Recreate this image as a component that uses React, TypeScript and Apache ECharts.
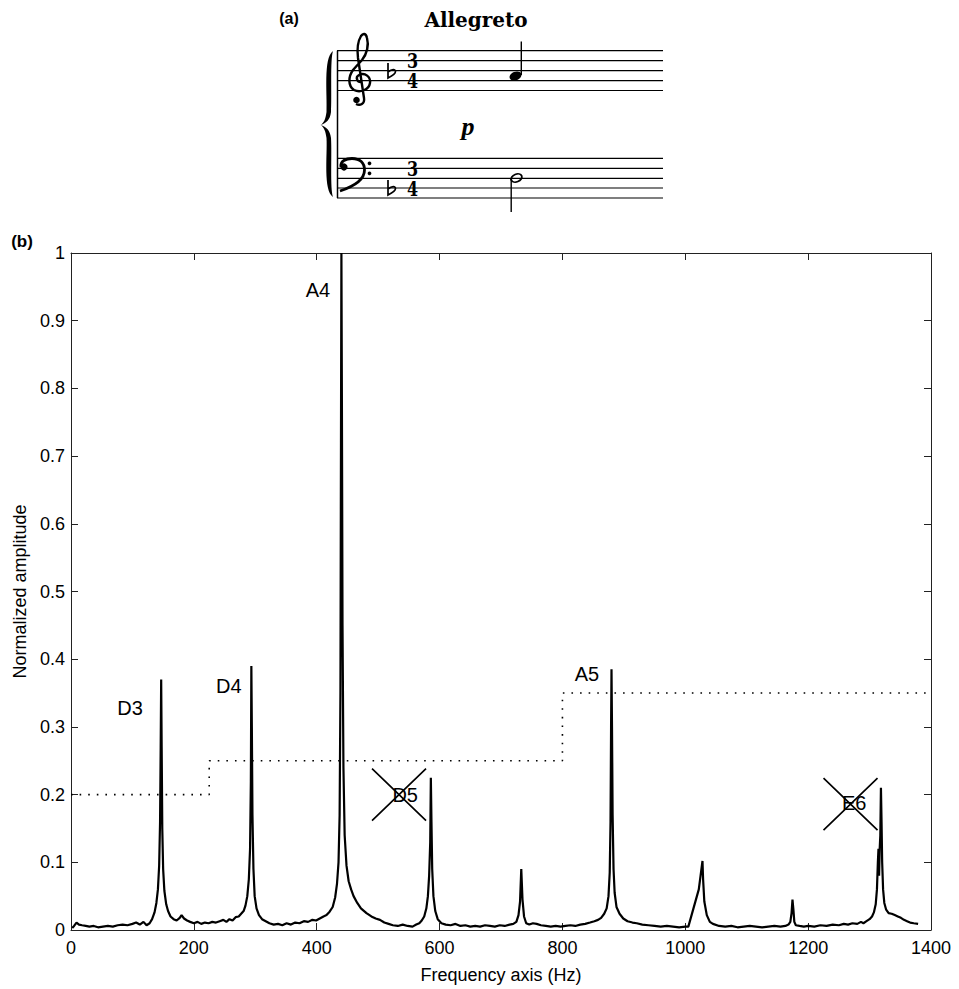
import React, { useEffect, useRef } from "react";
import * as echarts from "echarts";

// ---- data ----
const xMin = 0;
const xMax = 1400;
const xStep = 200;
const yMin = 0;
const yMax = 1;
const yStep = 0.1;

// normalized amplitude spectrum [Hz, amplitude]
const spectrum: [number, number][] = [
  [2, 0.003], [5, 0.006], [9, 0.011], [13, 0.008], [18, 0.007], [24, 0.006], [30, 0.005], [37, 0.006],
  [44, 0.004], [52, 0.005], [60, 0.006], [68, 0.005], [76, 0.007], [84, 0.008], [92, 0.007], [100, 0.009],
  [106, 0.011], [112, 0.008], [118, 0.012], [123, 0.007], [128, 0.01],
  [132, 0.016], [136, 0.026], [139, 0.04], [141.5, 0.06], [143.5, 0.095], [145, 0.16], [146, 0.27],
  [146.8, 0.37], [147.6, 0.27], [148.6, 0.15], [150, 0.09], [152, 0.058], [155, 0.038], [158, 0.028],
  [162, 0.02], [167, 0.016], [172, 0.014], [177, 0.018], [180, 0.022], [184, 0.017], [189, 0.014],
  [194, 0.012], [200, 0.01], [206, 0.012], [212, 0.009], [218, 0.011], [224, 0.01], [230, 0.012],
  [236, 0.011], [242, 0.013], [248, 0.015], [253, 0.012], [258, 0.016], [263, 0.014], [268, 0.019],
  [273, 0.02], [277, 0.024], [281, 0.028],
  [284, 0.036], [287, 0.05], [289.5, 0.075], [291.5, 0.12], [292.8, 0.22], [293.6, 0.39], [294.4, 0.3],
  [295.4, 0.17], [297, 0.09], [299, 0.05], [302, 0.032], [306, 0.022], [311, 0.016], [317, 0.013],
  [323, 0.01], [330, 0.008], [337, 0.009], [344, 0.007], [351, 0.01], [358, 0.008], [365, 0.011],
  [372, 0.01], [379, 0.013], [386, 0.012], [393, 0.015], [399, 0.014], [405, 0.017], [411, 0.02],
  [416, 0.022], [421, 0.027], [426, 0.034],
  [430, 0.048], [433, 0.068], [435.5, 0.1], [437.3, 0.17], [438.6, 0.35], [439.5, 0.72], [440.2, 1.0],
  [441, 0.78], [442, 0.45], [443.5, 0.24], [445.5, 0.14], [448.5, 0.095], [452, 0.072], [456, 0.06],
  [460, 0.05], [466, 0.04], [472, 0.032], [481, 0.025], [489, 0.02], [496, 0.017], [503, 0.015],
  [510, 0.011], [517, 0.009], [524, 0.007], [532, 0.006], [540, 0.008], [548, 0.006], [556, 0.005],
  [562, 0.008], [567, 0.01], [571, 0.014],
  [575, 0.02], [578.5, 0.032], [581, 0.05], [583, 0.08], [584.8, 0.13], [585.8, 0.225], [586.8, 0.16],
  [588, 0.09], [590, 0.05], [593, 0.028], [597, 0.016], [603, 0.01], [610, 0.008], [618, 0.007],
  [626, 0.009], [634, 0.006], [642, 0.007], [650, 0.005], [658, 0.006], [666, 0.005], [674, 0.007],
  [682, 0.006], [690, 0.005], [698, 0.007], [706, 0.006], [714, 0.008], [720, 0.009], [725, 0.012],
  [728.5, 0.022], [731, 0.042], [733, 0.09], [735, 0.045], [737.5, 0.02], [741, 0.01], [746, 0.008],
  [752, 0.01], [758, 0.009], [765, 0.007], [773, 0.006], [781, 0.005], [789, 0.006], [797, 0.005],
  [805, 0.006], [813, 0.007], [821, 0.006], [829, 0.008], [837, 0.009], [845, 0.011], [852, 0.013],
  [858, 0.015], [863, 0.018], [868, 0.024], [872, 0.032],
  [875, 0.05], [877, 0.085], [878.3, 0.16], [879.2, 0.3], [879.9, 0.385], [880.7, 0.3], [881.7, 0.17],
  [883.2, 0.09], [885, 0.055], [888, 0.034], [893, 0.024], [899, 0.017], [906, 0.013], [914, 0.011],
  [921, 0.01], [930, 0.008], [940, 0.007], [950, 0.006], [960, 0.005], [970, 0.006], [980, 0.005],
  [990, 0.004], [1000, 0.005], [1005, 0.005],
  [1022, 0.06], [1027, 0.095], [1028, 0.102], [1029, 0.075], [1031, 0.042], [1035, 0.022], [1040, 0.012],
  [1045, 0.009], [1055, 0.006], [1065, 0.005], [1075, 0.006], [1085, 0.004], [1095, 0.005], [1105, 0.006],
  [1115, 0.005], [1125, 0.004], [1135, 0.005], [1145, 0.006], [1155, 0.005], [1163, 0.006], [1168, 0.008],
  [1171, 0.012], [1173, 0.025], [1174.5, 0.045], [1176, 0.03], [1177.5, 0.012], [1180, 0.007],
  [1186, 0.006], [1193, 0.005], [1200, 0.006], [1210, 0.005], [1220, 0.007], [1230, 0.006], [1240, 0.008],
  [1250, 0.007], [1258, 0.009], [1265, 0.008], [1272, 0.01], [1280, 0.009], [1286, 0.012], [1290, 0.01],
  [1295, 0.013], [1300, 0.016], [1304, 0.02], [1307, 0.026], [1310, 0.038], [1312, 0.06], [1313.5, 0.1],
  [1314.5, 0.12], [1315.5, 0.08], [1316.5, 0.12], [1317.5, 0.14], [1318.5, 0.21], [1319.5, 0.16],
  [1320.5, 0.1], [1322, 0.06], [1324, 0.04], [1327, 0.03], [1331, 0.025], [1336, 0.024], [1341, 0.022],
  [1346, 0.02], [1351, 0.018], [1356, 0.015], [1361, 0.013], [1366, 0.011], [1372, 0.01], [1379, 0.009],
];

// dotted threshold steps [Hz, amplitude]
const threshold: [number, number][] = [
  [0, 0.2], [225, 0.2], [225, 0.25], [800, 0.25], [800, 0.35], [1400, 0.35],
];

// note name labels [Hz, amplitude] of the label centre
const noteLabels = [
  { name: "D3", value: [96, 0.328] },
  { name: "D4", value: [257, 0.36] },
  { name: "A4", value: [402, 0.945] },
  { name: "A5", value: [840, 0.378] },
];
// rejected (crossed) notes
const crossedLabels = [
  { name: "D5", value: [544, 0.2] },
  { name: "E6", value: [1275, 0.188] },
];
const crossMarks: [number, number][] = [
  [534, 0.2],
  [1269, 0.186],
];

// ---- music notation shapes (panel a) ----
const TREBLE_D =
  "M362,82 C357,83 355,77 359,75 C365,72 371,77 370,83 C369,90 360,93 354,90 C348,86 348,77 353,70 L362,60 C367,54 369,45 367,38 C366,33 363,33 361,36 C358,41 357,50 358,58 L364,98 C365,104 360,106 356,104";
const BASS_D =
  "M341,167 C340,161 346,158.5 352,158.5 C360,158.5 364.5,163 364.5,170 C364.5,179 355,186 340,191";
const BRACE_D =
  "M333,51 C323,58 327.5,95 326.5,112 C325.5,119 324,123 320.5,125 C324,127 325.5,131 326.5,138 C327.5,155 323,190 333,197 C330,188 332,155 331,138 C330,130 326.5,127 320.5,125 C326.5,123 330,120 331,112 C332,95 330,60 333,51 Z";
const FLAT_D = "M1,0 L1,15 C4,13.5 8.5,11 8.5,8.5 C8.5,6 5,6 1,9";

let registered = false;
function registerShapes() {
  if (registered) return;
  registered = true;
  echarts.graphic.registerShape("trebleClef", echarts.graphic.extendPath(TREBLE_D, {}));
  echarts.graphic.registerShape("bassClef", echarts.graphic.extendPath(BASS_D, {}));
  echarts.graphic.registerShape("braceShape", echarts.graphic.extendPath(BRACE_D, {}));
  echarts.graphic.registerShape("flatSign", echarts.graphic.extendPath(FLAT_D, {}));
}

const SANS = "'Liberation Sans', Arial, Helvetica, sans-serif";
const SERIF = "'DejaVu Serif', 'Liberation Serif', serif";

function musicGraphics(): any[] {
  const els: any[] = [];
  const trebleLines = [50.7, 60.7, 70.7, 80.7, 90.5];
  const bassLines = [158.3, 168.3, 178.3, 188, 198];
  [...trebleLines, ...bassLines].forEach((y) => {
    els.push({ type: "line", shape: { x1: 337, y1: y, x2: 663, y2: y }, style: { stroke: "#000", lineWidth: 1.2 } });
  });
  els.push({ type: "line", shape: { x1: 337.5, y1: 50.7, x2: 337.5, y2: 198 }, style: { stroke: "#000", lineWidth: 1.5 } });
  els.push({ type: "braceShape", style: { fill: "#000" } });
  els.push({ type: "trebleClef", style: { fill: "none", stroke: "#000", lineWidth: 2.4 } });
  els.push({ type: "circle", shape: { cx: 356.5, cy: 100, r: 3.3 }, style: { fill: "#000" } });
  els.push({ type: "bassClef", style: { fill: "none", stroke: "#000", lineWidth: 2.8 } });
  els.push({ type: "circle", shape: { cx: 344, cy: 167, r: 3.6 }, style: { fill: "#000" } });
  els.push({ type: "circle", shape: { cx: 369.5, cy: 163.3, r: 1.9 }, style: { fill: "#000" } });
  els.push({ type: "circle", shape: { cx: 369.5, cy: 173.3, r: 1.9 }, style: { fill: "#000" } });
  els.push({ type: "flatSign", x: 387, y: 63, style: { fill: "none", stroke: "#000", lineWidth: 1.7 } });
  els.push({ type: "flatSign", x: 387, y: 180, style: { fill: "none", stroke: "#000", lineWidth: 1.7 } });
  // time signatures 3/4, one number per staff half
  const timeSig = [
    { t: "3", y: 61 },
    { t: "4", y: 81 },
    { t: "3", y: 168.5 },
    { t: "4", y: 188.5 },
  ];
  timeSig.forEach((d) => {
    els.push({
      type: "text",
      x: 412.5,
      y: d.y,
      scaleY: 1.25,
      style: {
        text: d.t,
        fill: "#000",
        font: `bold 16px ${SERIF}`,
        lineHeight: 16,
        align: "center",
        verticalAlign: "middle",
      },
    });
  });
  // quarter note (treble)
  els.push({ type: "ellipse", x: 515.5, y: 76, rotation: 0.38, shape: { cx: 0, cy: 0, rx: 6.2, ry: 4.2 }, style: { fill: "#000" } });
  els.push({ type: "line", shape: { x1: 521.3, y1: 41.5, x2: 521.3, y2: 75 }, style: { stroke: "#000", lineWidth: 1.4 } });
  // half note (bass)
  els.push({
    type: "ellipse",
    x: 516.5,
    y: 178,
    rotation: 0.38,
    shape: { cx: 0, cy: 0, rx: 5.6, ry: 3.8 },
    style: { fill: "none", stroke: "#000", lineWidth: 1.8 },
  });
  els.push({ type: "line", shape: { x1: 511.2, y1: 179, x2: 511.2, y2: 212 }, style: { stroke: "#000", lineWidth: 1.4 } });
  // dynamics
  els.push({
    type: "text",
    x: 468,
    y: 126,
    style: { text: "p", fill: "#000", font: `italic bold 26px 'Liberation Serif', serif`, align: "center", verticalAlign: "middle" },
  });
  // tempo
  els.push({
    type: "text",
    x: 476,
    y: 20,
    style: { text: "Allegreto", fill: "#000", font: `bold 20px ${SERIF}`, align: "center", verticalAlign: "middle" },
  });
  // panel letters
  els.push({
    type: "text",
    x: 289,
    y: 18,
    style: { text: "(a)", fill: "#000", font: `bold 16px ${SANS}`, align: "center", verticalAlign: "middle" },
  });
  els.push({
    type: "text",
    x: 22,
    y: 241,
    style: { text: "(b)", fill: "#000", font: `bold 17px ${SANS}`, align: "center", verticalAlign: "middle" },
  });
  return els;
}

export default function App() {
  const ref = useRef<HTMLDivElement>(null);
  useEffect(() => {
    if (!ref.current) return;
    registerShapes();
    const chart = echarts.init(ref.current, undefined, { renderer: "svg" });
    const axisLine = { show: true, onZero: false, lineStyle: { color: "#222", width: 1 } };
    const tick = { show: true, inside: true, length: 7, lineStyle: { color: "#222", width: 1 } };
    const label = { color: "#000", fontSize: 18, fontFamily: SANS };
    chart.setOption({
      animation: false,
      backgroundColor: "#fff",
      grid: { left: 71, right: 28, top: 253, bottom: 59, containLabel: false },
      xAxis: [
        {
          type: "value",
          position: "bottom",
          min: xMin,
          max: xMax,
          interval: xStep,
          axisLine,
          axisTick: tick,
          splitLine: { show: false },
          axisLabel: { ...label, margin: 9, formatter: (v: number) => String(v) },
          name: "Frequency axis (Hz)",
          nameLocation: "middle",
          nameGap: 36,
          nameTextStyle: { color: "#000", fontSize: 18, fontFamily: SANS },
        },
        {
          type: "value",
          position: "top",
          min: xMin,
          max: xMax,
          interval: xStep,
          axisLine,
          axisTick: tick,
          splitLine: { show: false },
          axisLabel: { show: false },
        },
      ],
      yAxis: [
        {
          type: "value",
          position: "left",
          min: yMin,
          max: yMax,
          interval: yStep,
          axisLine,
          axisTick: tick,
          splitLine: { show: false },
          axisLabel: { ...label, margin: 6 },
          name: "Normalized amplitude",
          nameLocation: "middle",
          nameGap: 40,
          nameTextStyle: { color: "#000", fontSize: 18, fontFamily: SANS },
        },
        {
          type: "value",
          position: "right",
          min: yMin,
          max: yMax,
          interval: yStep,
          axisLine,
          axisTick: tick,
          splitLine: { show: false },
          axisLabel: { show: false },
        },
      ],
      series: [
        {
          type: "line",
          data: threshold,
          symbol: "none",
          lineStyle: { color: "#000", width: 1.6, type: [1.6, 7] },
          z: 2,
        },
        {
          type: "line",
          data: spectrum,
          symbol: "none",
          showSymbol: false,
          lineStyle: { color: "#000", width: 2.2 },
          z: 3,
        },
        {
          type: "scatter",
          data: [...noteLabels, ...crossedLabels],
          symbolSize: 1,
          itemStyle: { color: "rgba(0,0,0,0)", opacity: 1 },
          label: {
            show: true,
            position: "inside",
            formatter: "{b}",
            color: "#000",
            opacity: 1,
            fontSize: 20,
            fontFamily: SANS,
          },
          z: 4,
        },
        {
          type: "scatter",
          data: crossMarks,
          symbol: "path://M0,0L54,52M0,52L54,0",
          symbolSize: [54, 52],
          itemStyle: { color: "rgba(0,0,0,0)", borderColor: "#000", borderWidth: 1.6, opacity: 1 },
          z: 5,
        },
      ],
      graphic: musicGraphics(),
    });
    return () => chart.dispose();
  }, []);
  return (
    <div
      ref={ref}
      style={{ position: "fixed", left: 0, top: 0, width: 959, height: 989, background: "#fff" }}
    />
  );
}
